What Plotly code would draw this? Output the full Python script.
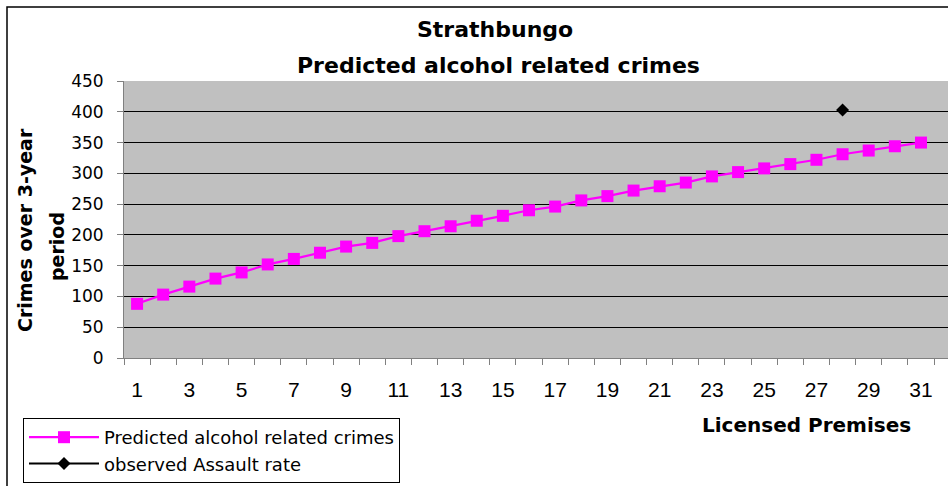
import plotly.graph_objects as go

# ---- data ----
licensed_premises = [1, 2, 3, 4, 5, 6, 7, 8, 9, 10, 11, 12, 13, 14, 15, 16,
                     17, 18, 19, 20, 21, 22, 23, 24, 25, 26, 27, 28, 29, 30, 31]
predicted_crimes = [88, 103, 116, 129, 139, 152, 161, 171, 181, 187, 198, 206,
                    214, 223, 231, 240, 246, 256, 263, 272, 279, 285, 295, 302,
                    308, 315, 322, 331, 337, 344, 350]
observed_premises = [28]
observed_assault = [403]
y_ticks = [0, 50, 100, 150, 200, 250, 300, 350, 400, 450]
x_tick_labels = licensed_premises[::2]

W, H = 948, 486
L, R, T, B = 124, 0, 81, 128
PW, PH = W - L - R, H - T - B


def px(x):
    return (x - L) / PW


def py(y):
    return (H - B - y) / PH


cat_w = 26.13
x_max = 0.5 + PW / cat_w

fig = go.Figure()
fig.add_trace(go.Scatter(
    x=licensed_premises, y=predicted_crimes, mode="lines+markers",
    name="Predicted alcohol related crimes",
    line=dict(color="#FF00FF", width=2.2),
    marker=dict(symbol="square", size=12, color="#FF00FF"),
))
fig.add_trace(go.Scatter(
    x=observed_premises, y=observed_assault, mode="lines+markers",
    name="observed Assault rate",
    line=dict(color="black", width=2),
    marker=dict(symbol="diamond", size=10, color="black"),
))

fig.update_layout(
    width=W, height=H,
    margin=dict(l=L, r=R, t=T, b=B, pad=0),
    paper_bgcolor="white",
    plot_bgcolor="#C0C0C0",
    font=dict(family="DejaVu Sans", color="black"),
    hovermode=False,
    xaxis=dict(
        range=[0.5, x_max],
        tickvals=x_tick_labels,
        ticktext=[str(v) for v in x_tick_labels],
        ticks="", showgrid=False, zeroline=False,
        showline=True, linecolor="#808080", linewidth=1,
        tickfont=dict(family="Liberation Sans", size=21, color="black"),
        ticklabelstandoff=13,
        minor=dict(
            tickvals=[v - 0.5 for v in licensed_premises] + [licensed_premises[-1] + 0.5],
            ticks="outside", ticklen=6, tickcolor="#808080", tickwidth=1,
            showgrid=False,
        ),
    ),
    yaxis=dict(
        range=[0, 450],
        tickvals=y_ticks,
        ticks="outside", ticklen=6, tickcolor="#808080", tickwidth=1,
        showgrid=False, zeroline=False,
        showline=True, linecolor="#808080", linewidth=1,
        tickfont=dict(family="DejaVu Sans", size=17, color="black"),
        ticklabelstandoff=10,
        minor=dict(
            tickvals=y_ticks[1:-1], ticks="",
            showgrid=True, gridcolor="black", gridwidth=1,
        ),
    ),
    legend=dict(
        x=px(23), y=py(418), xanchor="left", yanchor="top",
        bgcolor="white", bordercolor="black", borderwidth=1,
        font=dict(family="DejaVu Sans", size=18, color="black"),
        itemwidth=70, tracegroupgap=0,
    ),
    shapes=[dict(
        type="rect", xref="paper", yref="paper",
        x0=px(7), x1=px(955), y0=py(495), y1=py(7),
        line=dict(color="black", width=1.5), fillcolor="rgba(0,0,0,0)",
        layer="below",
    )],
    annotations=[
        dict(text="<b>Strathbungo</b>", xref="paper", yref="paper",
             x=px(495), y=py(29), xanchor="center", yanchor="middle",
             showarrow=False, font=dict(family="DejaVu Sans", size=22)),
        dict(text="<b>Predicted alcohol related crimes</b>", xref="paper", yref="paper",
             x=px(498), y=py(65), xanchor="center", yanchor="middle",
             showarrow=False, font=dict(family="DejaVu Sans", size=22)),
        dict(text="<b>Crimes over 3-year</b>", xref="paper", yref="paper",
             x=px(25), y=py(230), xanchor="center", yanchor="middle",
             textangle=-90, showarrow=False, font=dict(family="DejaVu Sans", size=19)),
        dict(text="<b>period</b>", xref="paper", yref="paper",
             x=px(57), y=py(247), xanchor="center", yanchor="middle",
             textangle=-90, showarrow=False, font=dict(family="DejaVu Sans", size=19)),
        dict(text="<b>Licensed Premises</b>", xref="paper", yref="paper",
             x=px(806), y=py(425), xanchor="center", yanchor="middle",
             showarrow=False, font=dict(family="DejaVu Sans", size=20)),
    ],
)

fig.write_html("out.html", config={"displayModeBar": False},
               post_script="document.body.style.margin='0';")
